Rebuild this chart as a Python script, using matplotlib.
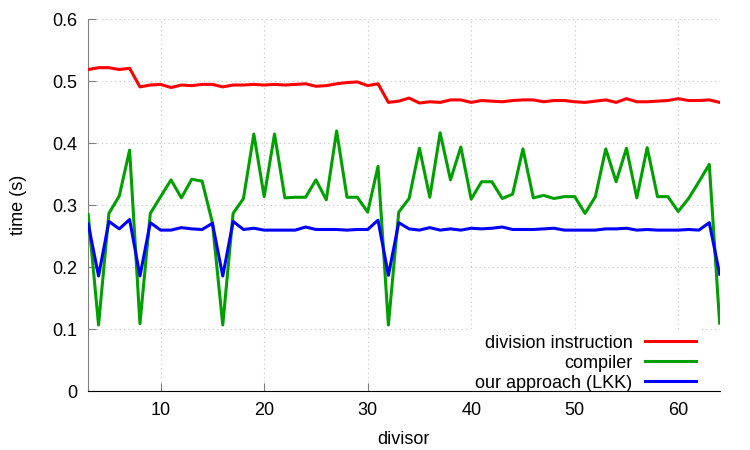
import matplotlib
matplotlib.use("Agg")
import matplotlib.pyplot as plt

# divisores 3..64
divisores = list(range(3, 65))

# tiempos (s)
division = [0.519, 0.522, 0.522, 0.519, 0.521, 0.491, 0.494, 0.495, 0.490, 0.494,
            0.493, 0.495, 0.495, 0.491, 0.494, 0.494, 0.495, 0.494, 0.495, 0.494,
            0.495, 0.496, 0.492, 0.493, 0.496, 0.498, 0.499, 0.493, 0.496, 0.466,
            0.468, 0.473, 0.465, 0.467, 0.466, 0.470, 0.470, 0.466, 0.469, 0.468,
            0.467, 0.469, 0.470, 0.470, 0.467, 0.469, 0.469, 0.467, 0.466, 0.468,
            0.470, 0.466, 0.472, 0.467, 0.467, 0.468, 0.469, 0.472, 0.469, 0.469,
            0.470, 0.466]
compilador = [0.285, 0.107, 0.287, 0.315, 0.389, 0.109, 0.287, 0.314, 0.341, 0.312,
              0.342, 0.339, 0.272, 0.107, 0.287, 0.311, 0.415, 0.314, 0.415, 0.312,
              0.313, 0.313, 0.341, 0.309, 0.420, 0.313, 0.313, 0.289, 0.363, 0.107,
              0.289, 0.311, 0.392, 0.313, 0.417, 0.341, 0.394, 0.310, 0.338, 0.338,
              0.311, 0.318, 0.391, 0.312, 0.316, 0.311, 0.314, 0.314, 0.287, 0.314,
              0.391, 0.338, 0.392, 0.312, 0.393, 0.314, 0.314, 0.290, 0.311, 0.338,
              0.366, 0.110]
lkk = [0.270, 0.186, 0.274, 0.262, 0.277, 0.186, 0.272, 0.260, 0.260, 0.264,
       0.262, 0.261, 0.271, 0.186, 0.274, 0.261, 0.263, 0.260, 0.260, 0.260,
       0.260, 0.265, 0.261, 0.261, 0.261, 0.260, 0.261, 0.261, 0.276, 0.187,
       0.272, 0.262, 0.260, 0.264, 0.260, 0.262, 0.260, 0.263, 0.262, 0.263,
       0.265, 0.261, 0.261, 0.261, 0.262, 0.263, 0.260, 0.260, 0.260, 0.260,
       0.262, 0.262, 0.263, 0.260, 0.261, 0.260, 0.260, 0.260, 0.261, 0.260,
       0.272, 0.189]

xticks = [10, 20, 30, 40, 50, 60]
yticks = [0, 0.1, 0.2, 0.3, 0.4, 0.5, 0.6]

plt.rcParams['font.family'] = ['Liberation Sans', 'DejaVu Sans']
plt.rcParams['font.size'] = 13

fig = plt.figure(figsize=(7.5, 4.5), dpi=100)
ax = fig.add_axes([0.1176, 0.1304, 0.8419, 0.8267])

ax.plot(divisores, division, color='#ff0000', linewidth=2.2, label='division instruction', zorder=3)
ax.plot(divisores, compilador, color='#00a000', linewidth=2.2, label='compiler', zorder=3)
ax.plot(divisores, lkk, color='#0000ff', linewidth=2.2, label='our approach (LKK)', zorder=3)

ax.set_xlim(3, 64)
ax.set_ylim(0, 0.6)
ax.set_xticks(xticks)
ax.set_yticks(yticks)
ax.set_yticklabels(['0', '0.1', '0.2', '0.3', '0.4', '0.5', '0.6'])

# Cuadricula punteada
ax.grid(color='#c4c4c4', linestyle=(0, (1, 3)), linewidth=0.8, zorder=0)
ax.set_axisbelow(True)

# Bordes solo abajo e izquierda
ax.spines['top'].set_visible(False)
ax.spines['right'].set_visible(False)
ax.spines['left'].set_color('#808080')
ax.spines['bottom'].set_color('black')
ax.tick_params(direction='in', length=6, color='#808080', pad=8)

ax.set_xlabel('divisor', labelpad=8)
ax.set_ylabel('time (s)', labelpad=18)

leg = ax.legend(loc='lower right', bbox_to_anchor=(0.985, -0.04), markerfirst=False,
                frameon=True, fancybox=False, handlelength=2.8, labelspacing=0.17,
                borderpad=0.3, handletextpad=0.7)
leg.get_frame().set_edgecolor('none')
leg.get_frame().set_facecolor('white')
leg.get_frame().set_alpha(1)
for t in leg.get_texts():
    t.set_ha('right')
leg.set_zorder(2)

fig.savefig('out.png', dpi=100)
